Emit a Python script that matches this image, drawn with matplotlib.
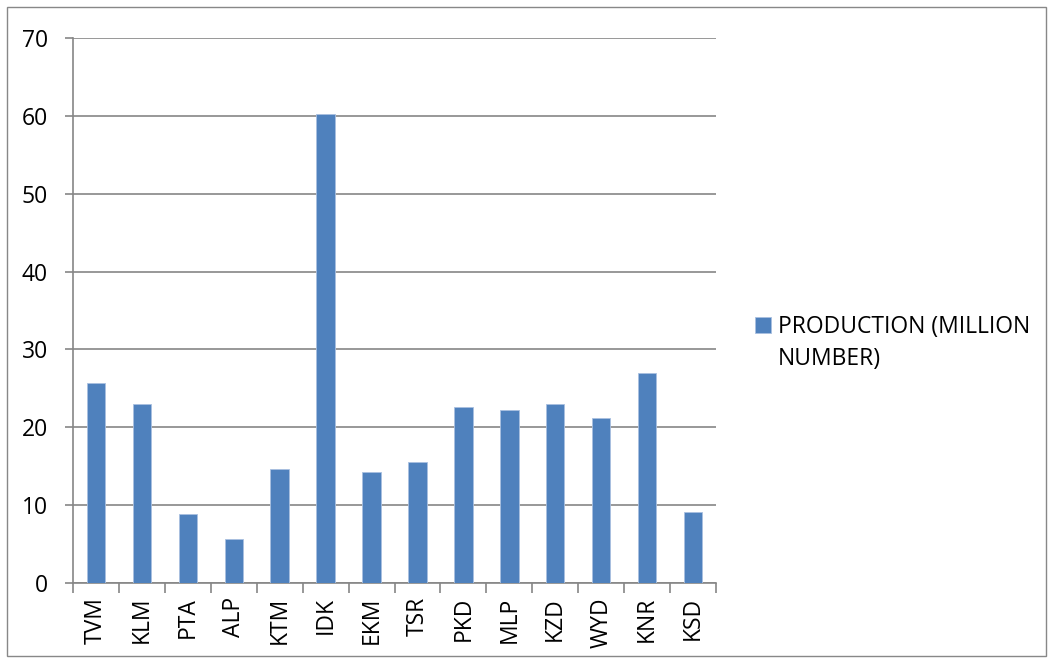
import matplotlib
matplotlib.use("Agg")
import matplotlib.pyplot as plt
from matplotlib.patches import Rectangle
import numpy as np

categories = ["TVM", "KLM", "PTA", "ALP", "KTM", "IDK", "EKM", "TSR", "PKD", "MLP", "KZD", "WYD", "KNR", "KSD"]
production = [25.7, 23.05, 8.9, 5.6, 14.7, 60.2, 14.25, 15.6, 22.6, 22.2, 23.05, 21.2, 27.0, 9.1]
series_name_lines = ["PRODUCTION (MILLION", "NUMBER)"]
yticks = [0, 10, 20, 30, 40, 50, 60, 70]

plt.rcParams['font.family'] = ['Open Sans', 'DejaVu Sans']
W, H = 1053, 663
fig = plt.figure(figsize=(W/100, H/100), dpi=100)
fig.patch.set_facecolor("white")

# outer border
fig.add_artist(Rectangle((7/W, 1 - 656/H), (1046-7)/W, (656-7)/H, transform=fig.transFigure,
                         fill=False, edgecolor="#888888", linewidth=1.0))

l, r, t, b = 73, 716, 38, 583
ax = fig.add_axes([l/W, 1 - b/H, (r-l)/W, (b-t)/H])
grid_c = "#868686"
fs = 16.5
x = np.arange(len(categories))
ax.bar(x, production, width=0.4, color="#4F81BD", edgecolor="#a9c0e0", linewidth=0.6, zorder=3,
       label=series_name_lines[0])
ax.set_xlim(-0.5, len(categories) - 0.5)
ax.set_ylim(0, 70)
ax.set_yticks(yticks)
ax.set_yticklabels([str(v) for v in yticks], fontsize=fs)
ax.yaxis.grid(True, color=grid_c, linewidth=1.2, zorder=0)
ax.tick_params(axis='y', length=6, color=grid_c, width=1.2, pad=12)
ax.set_xticks(x)
ax.set_xticklabels(categories, rotation=90, fontsize=fs)
ax.tick_params(axis='x', which='major', length=0, pad=10)
ax.set_xticks(np.arange(-0.5, len(categories)), minor=True)
ax.tick_params(axis='x', which='minor', length=7, color=grid_c, width=1.2)
for s in ["top", "right"]:
    ax.spines[s].set_visible(False)
for s in ["left", "bottom"]:
    ax.spines[s].set_color(grid_c)
    ax.spines[s].set_linewidth(1.2)

leg = ax.legend(loc="upper left", bbox_to_anchor=(746/W, 1 - 306/H), bbox_transform=fig.transFigure,
                frameon=False, fontsize=fs, handlelength=0.7, handleheight=0.7, handletextpad=0.3,
                borderaxespad=0)
fig.canvas.draw()
tx = leg.get_texts()[0]
bb = tx.get_window_extent(fig.canvas.get_renderer())
fig.text(bb.x0 / W, (bb.y0 - 32 + (bb.y1 - bb.y0) / 2) / H, series_name_lines[1],
         fontsize=fs, ha="left", va="center")

fig.savefig("out.png", dpi=100, facecolor="white")
